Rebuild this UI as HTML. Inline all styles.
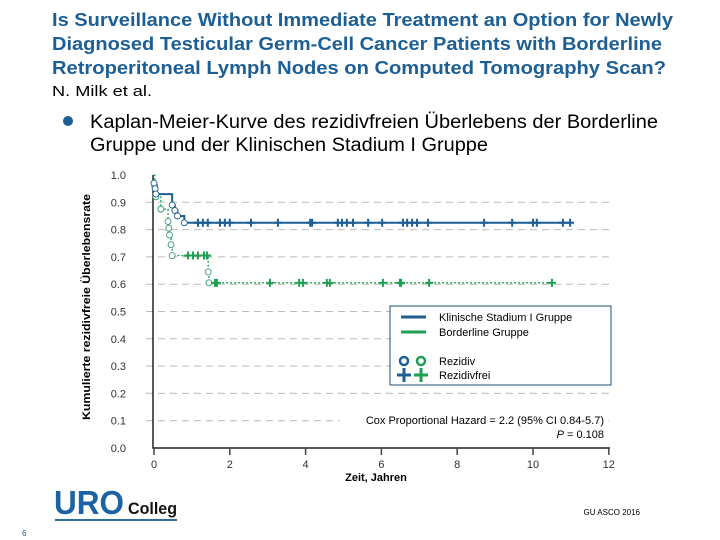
<!DOCTYPE html>
<html><head><meta charset="utf-8"><style>
html,body{margin:0;padding:0;background:#fff;}
svg{display:block;font-family:"Liberation Sans",sans-serif;}
</style></head><body>
<svg id="s" width="720" height="540" viewBox="0 0 720 540" xmlns="http://www.w3.org/2000/svg">
<g fill="#1d5f95" font-weight="bold" font-size="18">
<text x="52" y="26" textLength="621" lengthAdjust="spacingAndGlyphs">Is Surveillance Without Immediate Treatment an Option for Newly</text>
<text x="52" y="50" textLength="610" lengthAdjust="spacingAndGlyphs">Diagnosed Testicular Germ-Cell Cancer Patients with Borderline</text>
<text x="52" y="74" textLength="614" lengthAdjust="spacingAndGlyphs">Retroperitoneal Lymph Nodes on Computed Tomography Scan?</text>
</g>
<text x="52" y="96" font-size="15" textLength="100" lengthAdjust="spacingAndGlyphs">N. Milk et al.</text>
<g font-size="19">
<circle cx="68" cy="121" r="5" fill="#1d5f95"/>
<text x="90" y="128" textLength="568" lengthAdjust="spacingAndGlyphs">Kaplan-Meier-Kurve des rezidivfreien Überlebens der Borderline</text>
<text x="90" y="151" textLength="398" lengthAdjust="spacingAndGlyphs">Gruppe und der Klinischen Stadium I Gruppe</text>
</g>
<text transform="translate(90,307) rotate(-90)" text-anchor="middle" font-size="11" font-weight="bold" textLength="226" lengthAdjust="spacingAndGlyphs">Kumulierte rezidivfreie Überlebensrate</text>
<g id="plot"></g>
<g>
<rect x="390" y="306" width="221" height="79" fill="#fff" stroke="#1f4f6e" stroke-width="1"/>
<line x1="401" y1="317" x2="426" y2="317" stroke="#1d5f95" stroke-width="3"/>
<line x1="401" y1="332" x2="426" y2="332" stroke="#1ea052" stroke-width="3"/>
<text x="439" y="321" font-size="11">Klinische Stadium I Gruppe</text>
<text x="439" y="336" font-size="11">Borderline Gruppe</text>
<circle cx="404" cy="361" r="4" fill="none" stroke="#1d5f95" stroke-width="2.5"/>
<circle cx="421" cy="361" r="4" fill="none" stroke="#1ea052" stroke-width="2.5"/>
<path d="M397 375h14M404 368v14" stroke="#1d5f95" stroke-width="3"/>
<path d="M414 375h14M421 368v14" stroke="#1ea052" stroke-width="3"/>
<text x="439" y="365" font-size="11">Rezidiv</text>
<text x="439" y="379" font-size="11">Rezidivfrei</text>
</g>
<g font-size="11" text-anchor="end">
<rect x="340" y="410" width="268" height="32" fill="#fff"/>
<text x="604" y="424">Cox Proportional Hazard = 2.2 (95% CI 0.84-5.7)</text>
<text x="604" y="438"><tspan font-style="italic">P</tspan> = 0.108</text>
</g>
<text x="376" y="481" font-size="11" font-weight="bold" text-anchor="middle">Zeit, Jahren</text>
<g>
<text x="54" y="514" font-size="33" font-weight="bold" fill="#1d62a3" textLength="70" lengthAdjust="spacingAndGlyphs">URO</text>
<text x="128" y="514" font-size="17" font-weight="bold" fill="#111" textLength="49" lengthAdjust="spacingAndGlyphs">Colleg</text>
<rect x="55" y="519" width="122" height="2" fill="#2a6e9a"/>
</g>
<text x="640" y="515" font-size="8" text-anchor="end">GU ASCO 2016</text>
<text x="22" y="536" font-size="8" fill="#1d5f95">6</text>
</svg>
<script>
const yTicks=[0,0.1,0.2,0.3,0.4,0.5,0.6,0.7,0.8,0.9,1.0];
const xTicks=[0,2,4,6,8,10,12];
const blueT=[0,0.03,0.05,0.48,0.55,0.62,0.8];
const blueS=[0.97,0.95,0.93,0.89,0.87,0.85,0.825];
const blueCensor=[1.16,1.29,1.42,1.74,1.87,2.0,2.56,3.27,4.12,4.17,4.85,4.96,5.09,5.25,5.65,6.02,6.57,6.68,6.81,6.94,7.23,8.71,9.45,10.0,10.1,10.79,10.98];
const greenT=[0.02,0.05,0.18,0.37,0.39,0.41,0.45,0.48,1.43,1.45];
const greenS=[0.96,0.92,0.875,0.83,0.805,0.78,0.745,0.705,0.645,0.605];
const greenCensor1=[0.9,1.03,1.16,1.32,1.4];
const greenCensor2=[1.61,1.66,3.06,3.83,3.93,4.56,4.64,6.04,6.49,6.52,7.26,10.5];
const X=t=>154+t*37.9, Y=v=>448-v*273;
const NS='http://www.w3.org/2000/svg';
const g=document.getElementById('plot');
function el(tag,a,p){const e=document.createElementNS(NS,tag);for(const k in a)e.setAttribute(k,a[k]);(p||g).appendChild(e);return e;}
yTicks.forEach(v=>{
 if(v>0&&v<1){const l=el('line',{x1:146,x2:611,y1:Y(v),y2:Y(v),stroke:'#bbb','stroke-dasharray':'7,5'});
 
 }
 const t=el('text',{x:126,y:Y(v)+4,'font-size':11,'text-anchor':'end',fill:'#333'});t.textContent=v.toFixed(1);
 
 
});
const ax=el('path',{d:`M153 ${Y(1)}V448H610`,fill:'none',stroke:'#222','stroke-width':1.5});


xTicks.forEach(v=>{
 el('line',{x1:X(v),x2:X(v),y1:448,y2:455,stroke:'#444','stroke-width':1.5});
 const t=el('text',{x:X(v),y:468,'font-size':11,'text-anchor':'middle',fill:'#333'});t.textContent=v;
 
 
});
function curve(T,S,start,end,color,dash,name){
 let d=`M${X(0)} ${Y(start)}`;let prev=start;
 T.forEach((t,i)=>{d+=`H${X(t)}V${Y(S[i])}`;prev=S[i];});
 d+=`H${X(end)}`;
 const p=el('path',{d,fill:'none',stroke:color,'stroke-width':dash?1.3:2,'stroke-dasharray':dash||'none'});
 
 
 T.forEach((t,i)=>{const c=el('circle',{cx:X(t),cy:Y(S[i]),r:3,fill:'#fff',stroke:color==='#1d5f95'?'#1d5f95':'#3a9a7a','stroke-width':0.9});
 
 });
}
function censors(arr,v,color){arr.forEach(t=>{const c=el('path',{d:`M${X(t)-4} ${Y(v)}h8M${X(t)} ${Y(v)-4}v8`,stroke:color,'stroke-width':2});
 
 });}
curve(greenT,greenS,1.0,10.5,'#1ea052','2,2','borderline-curve');
curve(blueT,blueS,0.97,11.0,'#1d5f95',null,'stadium-i-curve');
censors(blueCensor,blueS[blueS.length-1],'#1d5f95');
censors(greenCensor1,greenS[7],'#1ea052');
censors(greenCensor2,greenS[greenS.length-1],'#1ea052');
</script>
</body></html>
